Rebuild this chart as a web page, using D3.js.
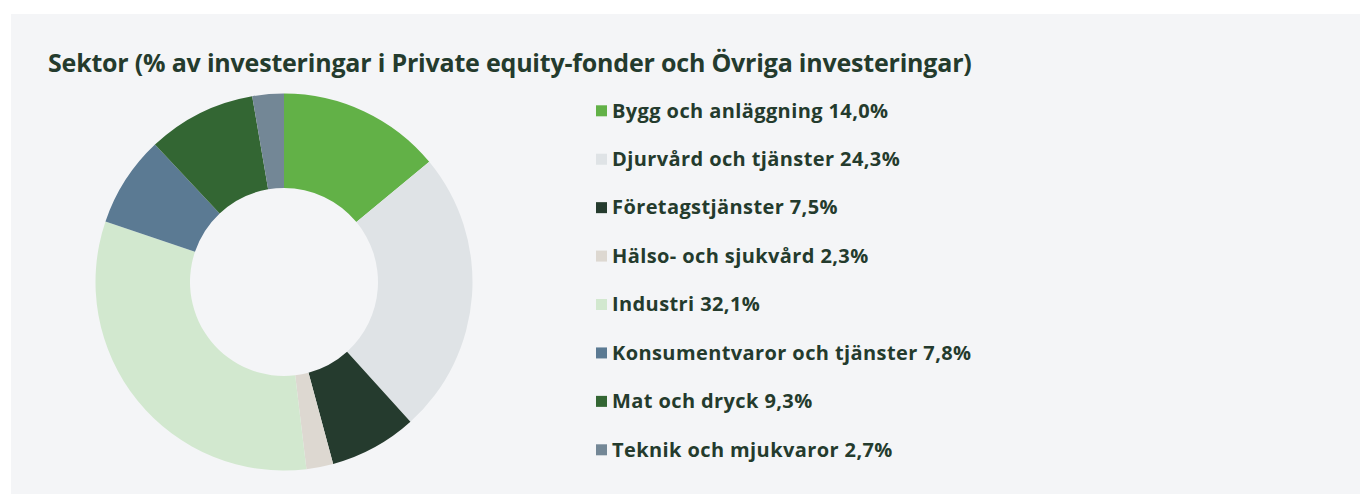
<!DOCTYPE html>
<html><head>
<meta charset="utf-8">
<title>Sektor</title>
<script src="https://d3js.org/d3.v7.min.js"></script>
<style>
  body { margin: 0; background: #ffffff; }
  svg { display: block; }
</style>
</head>
<body>
<div id="chart"></div>
<script>

// data
var sectors = ["Bygg och anläggning", "Djurvård och tjänster", "Företagstjänster", "Hälso- och sjukvård",
               "Industri", "Konsumentvaror och tjänster", "Mat och dryck", "Teknik och mjukvaror"];
var shares = [14.0, 24.3, 7.5, 2.3, 32.1, 7.8, 9.3, 2.7];
var colors = ["#62b147", "#dfe3e6", "#253b2e", "#ddd8d1", "#d2e8cf", "#5b7a93", "#336633", "#738796"];
var title = "Sektor (% av investeringar i Private equity-fonder och Övriga investeringar)";

var W = 1360, H = 494;
var textColor = "#243b2d";
var font = "'Open Sans', Lato, sans-serif";

var svg = d3.select("#chart").append("svg")
  .attr("width", W)
  .attr("height", H);

// panel
svg.append("rect")
  .attr("x", 11).attr("y", 14)
  .attr("width", W - 11).attr("height", H - 14)
  .attr("fill", "#f4f5f7");

svg.append("text")
  .attr("x", 48).attr("y", 72)
  .attr("fill", textColor)
  .style("font-family", font)
  .style("font-weight", 700)
  .style("font-size", "25px")
  .style("letter-spacing", "-0.2px")
  .text(title);

// donut
var cx = 284, cy = 282;
var pie = d3.pie().sort(null).value(function(d) { return d; });
var arc = d3.arc().innerRadius(94).outerRadius(188.5);

var g = svg.append("g")
  .attr("transform", "translate(" + cx + "," + cy + ")");

g.selectAll("path")
  .data(pie(shares))
  .enter().append("path")
    .attr("d", arc)
    .attr("fill", function(d, i) { return colors[i]; });

// legend
var legendY = d3.scalePoint()
  .domain(sectors)
  .range([110.8, 449.8]);

var leg = svg.append("g").selectAll("g")
  .data(sectors)
  .enter().append("g")
    .attr("transform", function(d) { return "translate(596," + legendY(d) + ")"; });

leg.append("rect")
  .attr("x", 0).attr("y", -5.5)
  .attr("width", 11).attr("height", 11)
  .attr("fill", function(d, i) { return colors[i]; });

leg.append("text")
  .attr("x", 16).attr("y", 0)
  .attr("dy", "0.34em")
  .attr("fill", textColor)
  .style("font-family", font)
  .style("font-weight", 700)
  .style("font-size", "20px")
  .style("letter-spacing", "0.4px")
  .text(function(d, i) { return d + " " + d3.format(".1f")(shares[i]).replace(".", ",") + "%"; });

</script>
</body></html>
